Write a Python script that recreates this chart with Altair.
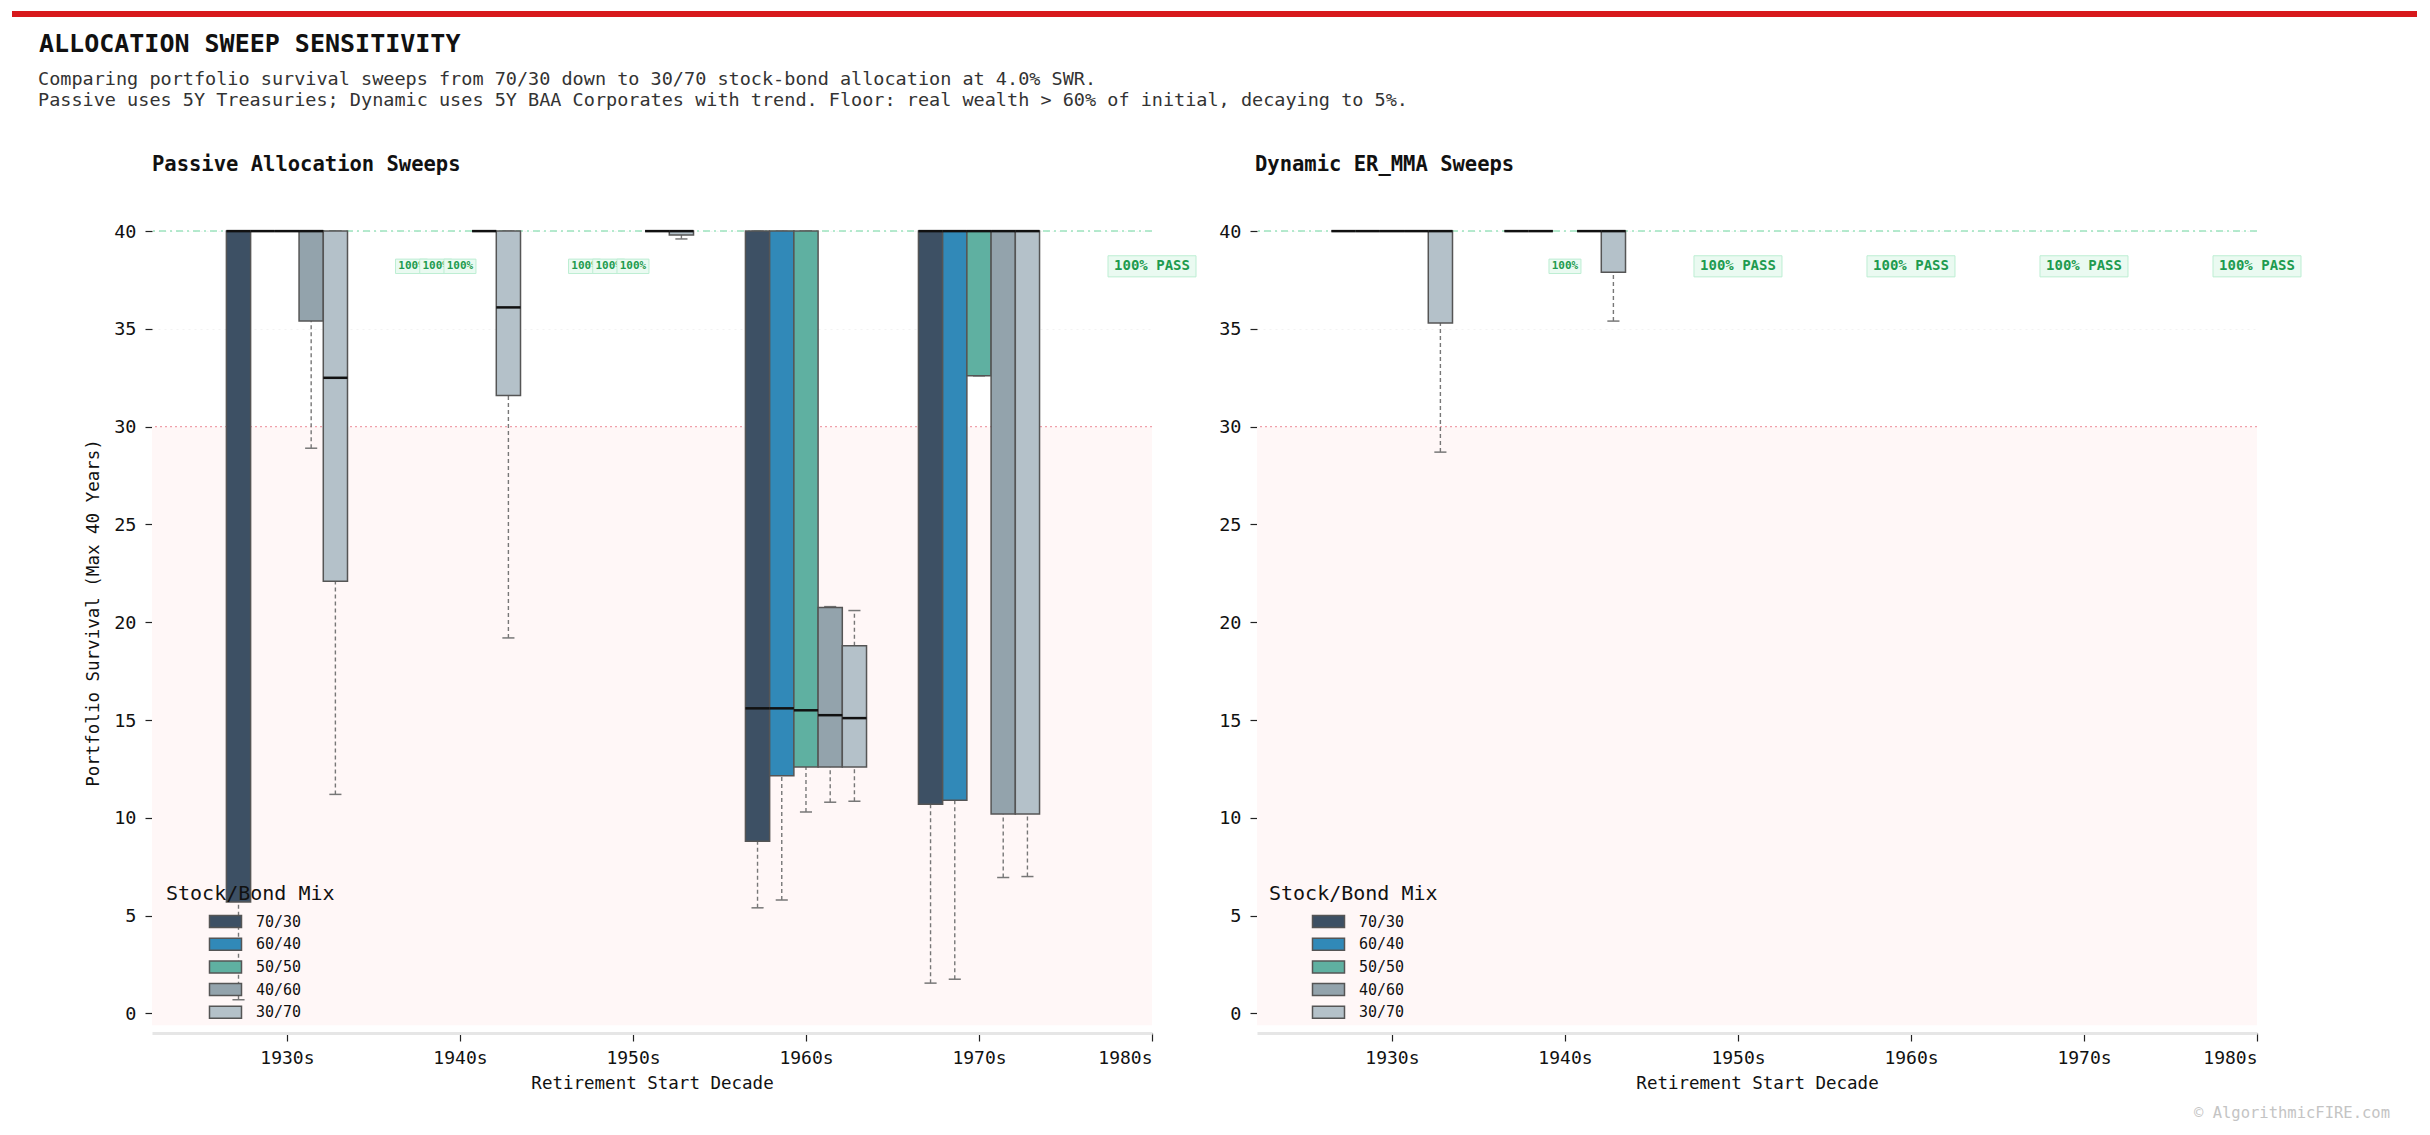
import altair as alt
import pandas as pd

FONT = "DejaVu Sans Mono"

DECADES = ["1930s", "1940s", "1950s", "1960s", "1970s", "1980s"]
MIXES = ["70/30", "60/40", "50/50", "40/60", "30/70"]
MIX_COLORS = ["#3d5064", "#3189b8", "#5fb0a1", "#93a3ac", "#b4c1c9"]

TITLE = "ALLOCATION SWEEP SENSITIVITY"
SUBTITLE = [
    "Comparing portfolio survival sweeps from 70/30 down to 30/70 stock-bond allocation at 4.0% SWR.",
    "Passive uses 5Y Treasuries; Dynamic uses 5Y BAA Corporates with trend. Floor: real wealth > 60% of initial, decaying to 5%.",
]
PANEL_TITLES = ["Passive Allocation Sweeps", "Dynamic ER_MMA Sweeps"]
WATERMARK = "\u00a9 AlgorithmicFIRE.com"
Y_TITLE = "Portfolio Survival (Max 40 Years)"
X_TITLE = "Retirement Start Decade"
LEGEND_TITLE = "Stock/Bond Mix"

N = None  # None = allocation passed 100% (drawn as a label)

# rows: decades, columns: mixes
PASSIVE_WHISLO = [
    [0.7, 40, 40, 28.9, 11.2],
    [N, N, N, 40, 19.2],
    [N, N, N, 40, 39.6],
    [5.4, 5.8, 10.3, 10.8, 10.85],
    [1.55, 1.75, 32.6, 6.95, 7.0],
    [N, N, N, N, N],
]
PASSIVE_Q1 = [
    [5.7, 40, 40, 35.4, 22.1],
    [N, N, N, 40, 31.6],
    [N, N, N, 40, 39.8],
    [8.8, 12.15, 12.6, 12.6, 12.6],
    [10.7, 10.9, 32.6, 10.2, 10.2],
    [N, N, N, N, N],
]
PASSIVE_MED = [
    [40, 40, 40, 40, 32.5],
    [N, N, N, 40, 36.1],
    [N, N, N, 40, 40],
    [15.6, 15.6, 15.5, 15.25, 15.1],
    [40, 40, 40, 40, 40],
    [N, N, N, N, N],
]
PASSIVE_Q3 = [
    [40, 40, 40, 40, 40],
    [N, N, N, 40, 40],
    [N, N, N, 40, 40],
    [40, 40, 40, 20.75, 18.8],
    [40, 40, 40, 40, 40],
    [N, N, N, N, N],
]
PASSIVE_WHISHI = [
    [40, 40, 40, 40, 40],
    [N, N, N, 40, 40],
    [N, N, N, 40, 40],
    [40, 40, 40, 20.8, 20.6],
    [40, 40, 40, 40, 40],
    [N, N, N, N, N],
]

DYNAMIC_WHISLO = [
    [40, 40, 40, 40, 28.7],
    [40, 40, N, 40, 35.4],
    [N, N, N, N, N],
    [N, N, N, N, N],
    [N, N, N, N, N],
    [N, N, N, N, N],
]
DYNAMIC_Q1 = [
    [40, 40, 40, 40, 35.3],
    [40, 40, N, 40, 37.9],
    [N, N, N, N, N],
    [N, N, N, N, N],
    [N, N, N, N, N],
    [N, N, N, N, N],
]
DYNAMIC_MED = [
    [40, 40, 40, 40, 40],
    [40, 40, N, 40, 40],
    [N, N, N, N, N],
    [N, N, N, N, N],
    [N, N, N, N, N],
    [N, N, N, N, N],
]
DYNAMIC_Q3 = [
    [40, 40, 40, 40, 40],
    [40, 40, N, 40, 40],
    [N, N, N, N, N],
    [N, N, N, N, N],
    [N, N, N, N, N],
    [N, N, N, N, N],
]
DYNAMIC_WHISHI = [
    [40, 40, 40, 40, 40],
    [40, 40, N, 40, 40],
    [N, N, N, N, N],
    [N, N, N, N, N],
    [N, N, N, N, N],
    [N, N, N, N, N],
]

MAX_YEARS = 40
FLOOR_YEARS = 30
LABEL_Y = 38.2

W, H = 1000, 841
BOX_W = 0.14

X_SCALE = alt.Scale(domain=[-0.78, 5], nice=False, zero=False)
Y_SCALE = alt.Scale(domain=[-1, 42], nice=False, zero=False)

label_expr = "[" + ",".join(f"'{d}'" for d in DECADES) + "][datum.value]"
X_AXIS = alt.Axis(
    values=list(range(len(DECADES))), labelExpr=label_expr, grid=False,
    domainColor="#e6e6e6", domainWidth=3, tickColor="#222", tickSize=8, tickWidth=1.2,
    labelFontSize=18, labelColor="#111", labelPadding=8, labelFont=FONT,
    titleFontSize=17.5, titleFontWeight="normal", titleColor="#111", titlePadding=7, titleFont=FONT,
)


def y_axis():
    return alt.Axis(
        values=list(range(0, 41, 5)), grid=True, gridColor="#eeeeee", gridDash=[2, 4], gridOpacity=0.7,
        domain=False, tickColor="#222", tickSize=7, tickWidth=1.2,
        labelFontSize=18.5, labelColor="#111", labelPadding=9, labelFont=FONT,
        titleFontSize=17.5, titleFontWeight="normal", titleColor="#111", titlePadding=11, titleFont=FONT,
    )


def build_frames(whislo, q1, med, q3, whishi):
    boxes, small, big = [], [], []
    for d in range(len(DECADES)):
        if all(v is None for v in med[d]):
            big.append({"pos": d, "y": LABEL_Y, "text": "100% PASS"})
            continue
        for k, mix in enumerate(MIXES):
            pos = d + (k - 2) * BOX_W
            if med[d][k] is None:
                small.append({"pos": pos, "k": k, "y": LABEL_Y, "text": "100%"})
            else:
                boxes.append({
                    "mix": mix, "pos": pos,
                    "left": pos - BOX_W / 2, "right": pos + BOX_W / 2,
                    "capl": pos - BOX_W / 4, "capr": pos + BOX_W / 4,
                    "lo": whislo[d][k], "q1": q1[d][k], "med": med[d][k],
                    "q3": q3[d][k], "hi": whishi[d][k],
                })
    return (pd.DataFrame(boxes),
            pd.DataFrame(small, columns=["pos", "k", "y", "text"]),
            pd.DataFrame(big, columns=["pos", "y", "text"]))


def text_layer(text, x, y, size, weight="normal", color="#111", align="left"):
    return alt.Chart(pd.DataFrame({"t": [text]})).mark_text(
        align=align, baseline="middle", font=FONT, fontSize=size, fontWeight=weight, color=color
    ).encode(x=alt.value(x), y=alt.value(y), text="t:N")


def panel(idx, whislo, q1, med, q3, whishi, ytitle, legend_x):
    boxes, small, big = build_frames(whislo, q1, med, q3, whishi)
    yax = y_axis()

    def Y(field):
        return alt.Y(f"{field}:Q", scale=Y_SCALE, axis=yax, title=ytitle)

    def X(field):
        return alt.X(f"{field}:Q", scale=X_SCALE, axis=X_AXIS, title=X_TITLE)

    band = alt.Chart(pd.DataFrame({"y": [-0.6], "y2": [FLOOR_YEARS]})).mark_rect(
        color="#fff7f7"
    ).encode(x=alt.value(0), x2=alt.value(W), y=Y("y"), y2="y2:Q")

    floor_line = alt.Chart(pd.DataFrame({"y": [FLOOR_YEARS]})).mark_rule(
        color="#f0a0aa", strokeWidth=1.3, strokeDash=[2, 3]
    ).encode(y=Y("y"))
    max_line = alt.Chart(pd.DataFrame({"y": [MAX_YEARS]})).mark_rule(
        color="#84dcae", strokeWidth=1.5, strokeDash=[7, 4, 2, 4], opacity=0.8
    ).encode(y=Y("y"))

    base = alt.Chart(boxes)
    whisk_lo = base.transform_filter("datum.lo < datum.q1").mark_rule(
        color="#777", strokeWidth=1.4, strokeDash=[4, 3]
    ).encode(x=X("pos"), y=Y("lo"), y2="q1:Q")
    whisk_hi = base.transform_filter("datum.hi > datum.q3").mark_rule(
        color="#777", strokeWidth=1.4, strokeDash=[4, 3]
    ).encode(x=X("pos"), y=Y("q3"), y2="hi:Q")
    cap_lo = base.mark_rule(color="#777", strokeWidth=1.5).encode(x=X("capl"), x2="capr:Q", y=Y("lo"))
    cap_hi = base.mark_rule(color="#777", strokeWidth=1.5).encode(x=X("capl"), x2="capr:Q", y=Y("hi"))

    legend = alt.Legend(
        title=LEGEND_TITLE, orient="none", legendX=legend_x, legendY=680, direction="vertical",
        symbolType="M-2.667,-1H2.667V1H-2.667Z", symbolSize=144,
        symbolStrokeColor="#555", symbolStrokeWidth=1.5, symbolOpacity=1,
        symbolOffset=52, labelOffset=23,
        titleFont=FONT, titleFontSize=20, titleFontWeight="normal", titleColor="#111", titlePadding=10,
        labelFont=FONT, labelFontSize=15, labelColor="#111", rowPadding=3.7,
        padding=12,
    )
    box = base.mark_rect(stroke="#555", strokeWidth=1.5, opacity=1).encode(
        x=X("left"), x2="right:Q", y=Y("q1"), y2="q3:Q",
        color=alt.Color("mix:N", scale=alt.Scale(domain=MIXES, range=MIX_COLORS), legend=legend),
    )
    median = base.mark_rule(color="#111", strokeWidth=2.5).encode(x=X("left"), x2="right:Q", y=Y("med"))

    layers = [band, floor_line, max_line, whisk_lo, whisk_hi, cap_lo, cap_hi, box, median]

    # small per-allocation "100%" labels, drawn in order so each box covers the previous
    for k in range(len(MIXES)):
        sk = alt.Chart(small).transform_filter(f"datum.k == {k}")
        layers.append(sk.mark_point(
            shape="M-1,-0.45H1V0.45H-1Z", size=1024, filled=True, fill="#eafaf1",
            stroke="#bdeed3", strokeWidth=1, opacity=1
        ).encode(x=X("pos"), y=Y("y")))
        layers.append(sk.mark_text(
            font=FONT, fontSize=11, fontWeight="bold", color="#1e9b4f", baseline="middle"
        ).encode(x=X("pos"), y=Y("y"), text="text:N"))

    bg = alt.Chart(big)
    layers.append(bg.mark_point(
        shape="M-1,-0.24H1V0.24H-1Z", size=7744, filled=True, fill="#eafaf1",
        stroke="#bdeed3", strokeWidth=1, opacity=1
    ).encode(x=X("pos"), y=Y("y")))
    layers.append(bg.mark_text(
        font=FONT, fontSize=14, fontWeight="bold", color="#1e9b4f", baseline="middle"
    ).encode(x=X("pos"), y=Y("y"), text="text:N"))

    layers.append(text_layer(PANEL_TITLES[idx], 0 if idx == 0 else -2, -27, 20.5, weight="bold"))

    if idx == 0:
        layers.append(alt.Chart(pd.DataFrame({"a": [0]})).mark_rect(color="#d7191c").encode(
            x=alt.value(-140), x2=alt.value(2265), y=alt.value(-181), y2=alt.value(-175)))
        layers.append(text_layer(TITLE, -113, -148, 25, weight="bold"))
        layers.append(text_layer(SUBTITLE[0], -114, -113, 18.5, color="#333"))
        layers.append(text_layer(SUBTITLE[1], -114, -92, 18.5, color="#333"))
    else:
        layers.append(text_layer(WATERMARK, 1133, 921, 15.5, color="#c4c4c4", align="right"))

    return alt.layer(*layers).properties(width=W, height=H)


left = panel(0, PASSIVE_WHISLO, PASSIVE_Q1, PASSIVE_MED, PASSIVE_Q3, PASSIVE_WHISHI, Y_TITLE, 2)
right = panel(1, DYNAMIC_WHISLO, DYNAMIC_Q1, DYNAMIC_MED, DYNAMIC_Q3, DYNAMIC_WHISHI, None, 0)

chart = alt.hconcat(left, right, spacing=105, bounds="flush").resolve_scale(
    color="independent"
).resolve_legend(color="independent").properties(
    padding={"left": 12, "top": 11, "right": 13, "bottom": 14},
    background="white",
).configure_view(stroke=None)

chart.save("out.html", embed_options={"renderer": "svg", "actions": False})
